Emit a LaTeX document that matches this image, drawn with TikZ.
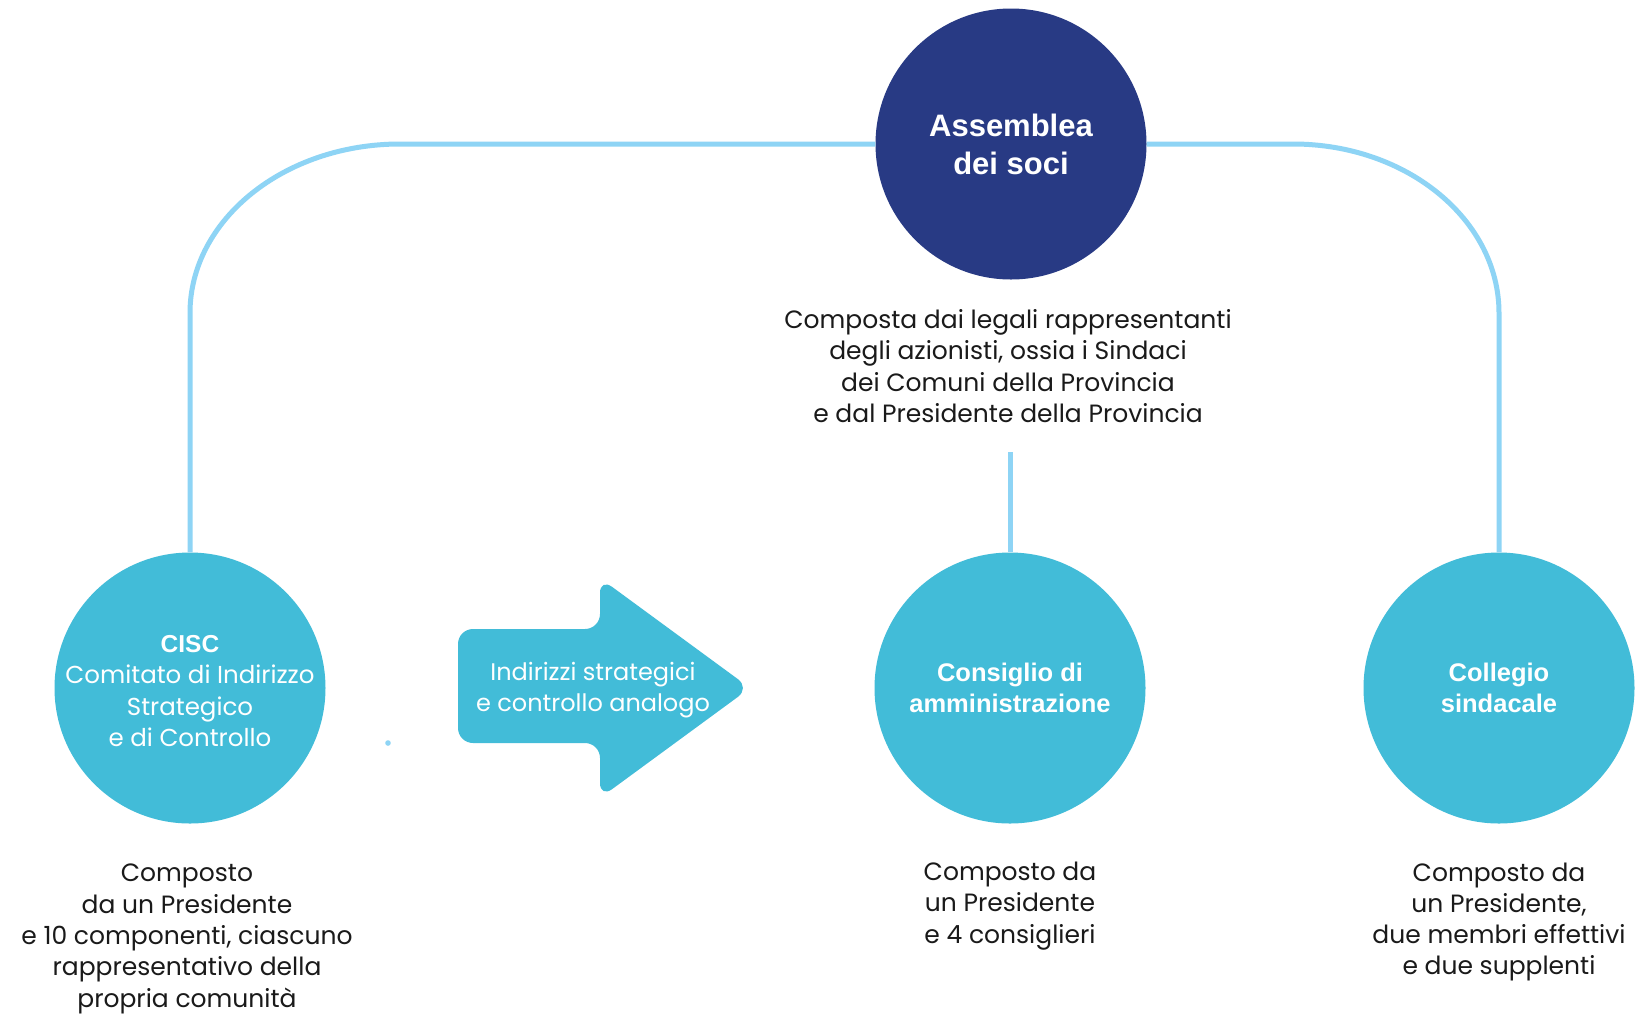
\documentclass[tikz,border=0pt]{standalone}
\usepackage{fontspec}
\setmainfont{Poppins}
\newfontfamily\headfont{Liberation Sans}
\definecolor{navy}{RGB}{40,58,132}
\definecolor{cyanc}{RGB}{66,188,216}
\definecolor{linec}{RGB}{142,212,245}
\definecolor{txt}{RGB}{26,26,26}
\begin{document}
\begin{tikzpicture}[x=1pt,y=-1pt,
  bigcirc/.style={circle, minimum size=271pt, inner sep=0pt, text=white, align=center},
  headtxt/.style={font=\headfont\bfseries\fontsize{25.5}{31.3}\selectfont},
  bodytxt/.style={font=\fontsize{25}{31.3}\selectfont, align=center, text=txt},
  conn/.style={draw=linec, line width=5pt}]
\useasboundingbox (0,0) rectangle (1636,1013);
\fill[white] (0,0) rectangle (1636,1013);

% circles
\node[bigcirc, fill=navy, font=\headfont\bfseries\fontsize{31}{38}\selectfont] (ass) at (1011,144) {Assemblea\\dei soci};
\node[bigcirc, fill=cyanc] (cisc) at (190,688) {};
\node[font=\fontsize{24.5}{31.3}\selectfont, text=white, align=center] (cisctxt) at (190,691) {{\headfont\bfseries CISC}\\Comitato di Indirizzo\\Strategico\\e di Controllo};
\node[bigcirc, fill=cyanc, headtxt] (cons) at (1010,688) {Consiglio di\\amministrazione};
\node[bigcirc, fill=cyanc, headtxt] (coll) at (1499,688) {Collegio\\sindacale};

% connectors
\draw[conn] (cisc.north) -- (190,313) .. controls (190,220) and (284,144) .. (400,144) -- (ass.west);
\draw[conn] (ass.east) -- (1293,144) .. controls (1407,144) and (1499,220) .. (1499,313) -- (coll.north);
\coordinate (mtop) at (1010,452);
\draw[conn] (mtop) -- (cons.north);

% arrow
\fill[cyanc, rounded corners=15pt] (458,629) -- (600,629) -- (600,578) -- (750,688) -- (600,798) -- (600,743) -- (458,743) -- cycle;
\node[font=\fontsize{24}{31.3}\selectfont, text=white, align=center] (arrtxt) at (593,690) {Indirizzi strategici\\e controllo analogo};
\fill[linec] (388,743) circle (2.8);

% descriptions
\node[bodytxt] (assd) at (1008,366) {Composta dai legali rappresentanti\\degli azionisti, ossia i Sindaci\\dei Comuni della Provincia\\e dal Presidente della Provincia};
\node[bodytxt] (ciscd) at (187,939) {Composto\\da un Presidente\\e 10 componenti, ciascuno\\rappresentativo della\\propria comunità};
\node[bodytxt] (consd) at (1010,906) {Composto da\\un Presidente\\e 4 consiglieri};
\node[bodytxt] (colld) at (1499,922) {Composto da\\un Presidente,\\due membri effettivi\\e due supplenti};
\end{tikzpicture}
\end{document}
